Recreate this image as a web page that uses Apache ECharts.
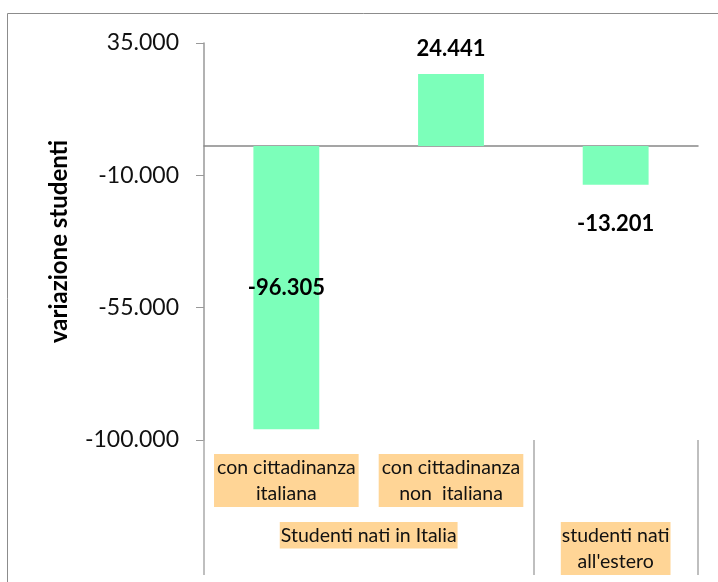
<!DOCTYPE html>
<html>
<head>
<meta charset="utf-8">
<script src="https://cdn.jsdelivr.net/npm/echarts@6/dist/echarts.min.js"></script>
<style>
  html, body { margin: 0; padding: 0; background: #fff; }
  #main { width: 718px; height: 582px; }
</style>
</head>
<body>
<div id="main"></div>
<script>
// categorie (primo livello) e valori
var categories = ['con cittadinanza\nitaliana', 'con cittadinanza\nnon  italiana', 'studenti nati all\'estero'];
var level1Labels = ['con cittadinanza\nitaliana', 'con cittadinanza\nnon  italiana', ''];
var values = [-96305, 24441, -13201];
// gruppi (secondo livello): nome + prima/ultima categoria
var groupNames = ['Studenti nati in Italia', 'studenti nati\nall\'estero'];
var groupSpans = [[0, 1], [2, 2]];
var yTicks = [-100000, -55000, -10000, 35000];

var fontFam = 'Lato, "Open Sans", sans-serif';

function fmt(v) {
  var s = String(Math.abs(v)).replace(/\B(?=(\d{3})+(?!\d))/g, '.');
  return (v < 0 ? '-' : '') + s;
}

// slot a mezza categoria per centrare le etichette dei gruppi
var groupSlots = [];
for (var i = 0; i <= categories.length * 2; i++) groupSlots.push('');
groupSpans.forEach(function (sp, k) {
  groupSlots[sp[0] + sp[1] + 1] = groupNames[k];
});

var barData = values.map(function (v, i) {
  if (i === 0) return { value: v, label: { position: 'inside' } };
  if (v > 0) return { value: v, label: { position: 'top', distance: 14 } };
  return { value: v, label: { position: 'bottom', distance: 28 } };
});

var chart = echarts.init(document.getElementById('main'));
chart.setOption({
  animation: false,
  textStyle: { fontFamily: fontFam },
  graphic: [{
    type: 'rect',
    shape: { x: 7.5, y: 13.5, width: 900, height: 900 },
    style: { fill: 'none', stroke: '#8c8c8c', lineWidth: 1 },
    silent: true
  }],
  grid: { left: 204, right: 20, top: 43, bottom: 142 },
  xAxis: [
    {
      type: 'category',
      position: 'bottom',
      data: categories,
      axisLine: { onZero: true, lineStyle: { color: '#888', width: 1.5 } },
      axisTick: { show: false },
      axisLabel: { show: false }
    },
    {
      type: 'category',
      position: 'bottom',
      data: level1Labels,
      axisLine: { show: false, onZero: false },
      axisTick: {
        show: true, length: 135,
        interval: function (idx) { return idx !== 1; },
        lineStyle: { color: '#aaa', width: 1.5 }
      },
      axisLabel: {
        interval: 0, margin: 14,
        fontFamily: fontFam, fontSize: 19.5, color: '#111',
        lineHeight: 26.5,
        backgroundColor: '#FFD596',
        padding: [0, 3]
      }
    },
    {
      type: 'category',
      position: 'bottom',
      boundaryGap: false,
      data: groupSlots,
      axisLine: { show: false, onZero: false },
      axisTick: { show: false },
      axisLabel: {
        interval: 0, margin: 82,
        fontFamily: fontFam, fontSize: 19.5, color: '#111',
        lineHeight: 26.5,
        backgroundColor: '#FFD596',
        padding: [0, 1]
      }
    }
  ],
  yAxis: {
    type: 'value',
    min: -100000,
    max: 35000,
    name: 'variazione studenti',
    nameLocation: 'middle',
    nameRotate: 90,
    nameGap: 133,
    nameTextStyle: { fontFamily: fontFam, fontSize: 24, fontWeight: 'bold', color: '#000' },
    axisLine: { show: true, onZero: false, lineStyle: { color: '#999', width: 1.5 } },
    axisTick: { show: true, length: 8, customValues: yTicks, lineStyle: { color: '#999' } },
    axisLabel: {
      customValues: yTicks, margin: 25,
      fontFamily: fontFam, fontSize: 23, color: '#111',
      formatter: fmt
    },
    splitLine: { show: false }
  },
  series: [{
    type: 'bar',
    data: barData,
    barWidth: '40%',
    itemStyle: { color: '#7CFFBA' },
    label: {
      show: true,
      fontFamily: fontFam, fontSize: 22, fontWeight: 'bold', color: '#000',
      formatter: function (p) { return fmt(p.value); }
    }
  }]
});
</script>
</body>
</html>
